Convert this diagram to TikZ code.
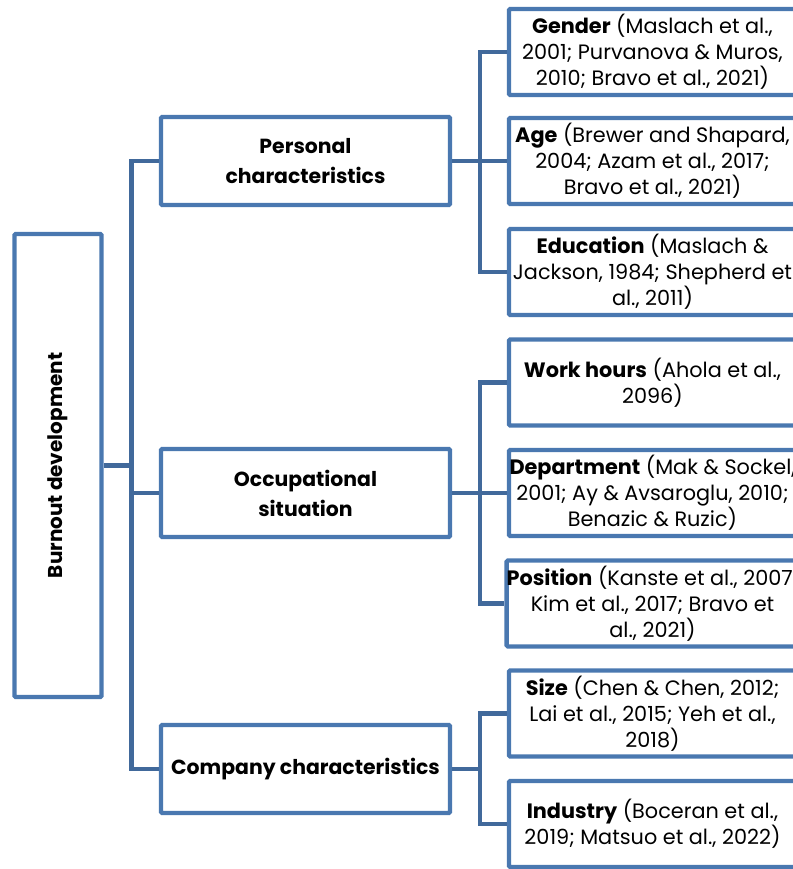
\documentclass[tikz,border=0pt]{standalone}
\usepackage{fontspec}
\setmainfont{Poppins}
\definecolor{boxblue}{HTML}{4A78B0}
\definecolor{linkblue}{HTML}{41699B}
\tikzset{
  box/.style={draw=boxblue, line width=3.3pt, rounded corners=1pt, fill=white, align=center, inner sep=0pt},
  rootbox/.style={box, minimum width=65.25pt, minimum height=347.25pt},
  catbox/.style={box, minimum width=216.75pt, minimum height=66pt, font=\fontsize{15.3}{22.5}\selectfont\bfseries},
  leafbox/.style={box, minimum width=215.25pt, minimum height=64.5pt, font=\fontsize{15.6}{19.5}\selectfont},
  link/.style={draw=linkblue, line width=3.3pt}
}
\begin{document}
\begin{tikzpicture}[x=0.75pt,y=-0.75pt]
\useasboundingbox (0,0) rectangle (793,869);
\clip (0,0) rectangle (793,869);
% root
\node[rootbox] (root) at (58,465.5) {};
\node[rotate=90, font=\fontsize{15}{18}\selectfont\bfseries] (roottxt) at (root.center) {Burnout development};
% categories
\node[catbox] (per) at (305.5,161) {Personal\\characteristics};
\node[catbox] (occ) at (305.5,493) {Occupational\\situation};
\node[catbox] (com) at (305.5,769) {Company characteristics};
% leaves
\node[leafbox] (gen) at (652.5,52) {\textbf{Gender} (Maslach et al.,\\2001; Purvanova \& Muros,\\2010; Bravo et al., 2021)};
\node[leafbox] (age) at (652.5,161) {\textbf{Age} (Brewer and Shapard,\\2004; Azam et al., 2017;\\Bravo et al., 2021)};
\node[leafbox] (edu) at (652.5,272) {\textbf{Education} (Maslach \&\\Jackson, 1984; Shepherd et\\al., 2011)};
\node[leafbox] (wrk) at (652.5,382.5) {\textbf{Work hours} (Ahola et al.,\\2096)};
\node[leafbox] (dep) at (652.5,493) {\textbf{Department} (Mak \& Sockel,\\2001; Ay \& Avsaroglu, 2010;\\Benazic \& Ruzic)};
\node[leafbox] (pos) at (652.5,603.5) {\textbf{Position} (Kanste et al., 2007;\\Kim et al., 2017; Bravo et\\al., 2021)};
\node[leafbox] (siz) at (652.5,713.5) {\textbf{Size} (Chen \& Chen, 2012;\\Lai et al., 2015; Yeh et al.,\\2018)};
\node[leafbox] (ind) at (652.5,824) {\textbf{Industry} (Boceran et al.,\\2019; Matsuo et al., 2022)};
% trunk
\coordinate (tk) at (131.5,0);
\coordinate (bk) at (480,0);
\draw[link] (root.east) -- (root.east -| tk);
\draw[link] (per.west) -- (per.west -| tk) -- (com.west -| tk) -- (com.west);
\draw[link] (occ.west -| tk) -- (occ.west);
% brackets
\draw[link] (per.east) -- (per.east -| bk);
\draw[link] (gen.west) -- (gen.west -| bk) -- (edu.west -| bk) -- (edu.west);
\draw[link] (age.west -| bk) -- (age.west);
\draw[link] (occ.east) -- (occ.east -| bk);
\draw[link] (wrk.west) -- (wrk.west -| bk) -- (pos.west -| bk) -- (pos.west);
\draw[link] (dep.west -| bk) -- (dep.west);
\draw[link] (com.east) -- (com.east -| bk);
\draw[link] (siz.west) -- (siz.west -| bk) -- (ind.west -| bk) -- (ind.west);
\end{tikzpicture}
\end{document}
